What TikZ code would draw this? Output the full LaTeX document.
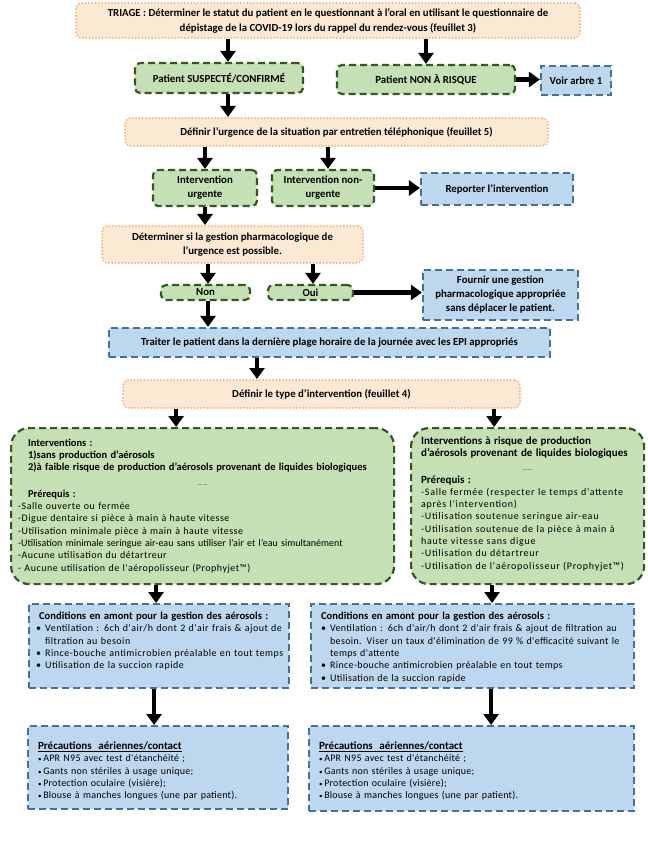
\documentclass[tikz,border=0pt]{standalone}
\usepackage{fontspec}
\setmainfont{Carlito}
\newfontfamily\espacA[LetterSpace=5]{Carlito}
\newfontfamily\espacB[LetterSpace=7.5]{Carlito}
\newfontfamily\espacC[LetterSpace=5]{Carlito}
\newfontfamily\espacD[LetterSpace=3.5]{Carlito}
\newfontfamily\espacE[LetterSpace=2.5]{Carlito}
\usetikzlibrary{arrows.meta}
\definecolor{peachfill}{HTML}{FCE9D4}
\definecolor{peachline}{HTML}{F2AD7A}
\definecolor{greenfill}{HTML}{C5E0B4}
\definecolor{greenline}{HTML}{375623}
\definecolor{bluefill}{HTML}{BDD7EE}
\definecolor{blueline}{HTML}{41719C}
\newcommand{\titre}[2][10.5]{{\normalfont\fontsize{#1}{12.3}\selectfont\bfseries #2}}
\newcommand{\puce}{\par\noindent\hangindent=9pt\hangafter=1\makebox[9pt][l]{\textbullet}}
\newcommand{\petitepuce}{{\scriptsize\textbullet}\,}
\begin{document}
\begin{tikzpicture}[x=1pt, y=-1pt, >={Triangle[length=11pt,width=15pt]},
  every node/.style={inner sep=0pt, align=center, font=\fontsize{10.8}{14}\selectfont\bfseries},
  peach/.style={draw=peachline, fill=peachfill, line width=2pt, line cap=round, dash pattern=on 0pt off 3.3pt, rounded corners=6pt},
  greenbox/.style={draw=greenline, fill=greenfill, line width=2.2pt, dash pattern=on 7pt off 4pt, rounded corners=5pt},
  bluebox/.style={draw=blueline, fill=bluefill, line width=2.2pt, dash pattern=on 7pt off 4pt},
  bigtext/.style={align=left, anchor=north west, font=\fontsize{10}{12.3}\selectfont},
  arr/.style={->, line width=4.5pt}]
  \fill[white] (0,0) rectangle (647,850);
  \useasboundingbox (0,0) rectangle (647,850);

  \node[peach, minimum width=504pt, minimum height=35pt] (triage) at (328,20.5)
    {TRIAGE : Déterminer le statut du patient en le questionnant à l'oral en utilisant le questionnaire de\\[1pt]
     dépistage de la COVID-19 lors du rappel du rendez-vous (feuillet 3)};
  \node[greenbox, minimum width=168pt, minimum height=30pt] (susp) at (219,78) {Patient SUSPECTÉ/CONFIRMÉ};
  \node[greenbox, minimum width=178pt, minimum height=29pt] (nonrisk) at (426,79.5) {Patient NON À RISQUE};
  \node[bluebox, minimum width=70pt, minimum height=29pt] (voir) at (576,80.5) {Voir arbre 1};

  \node[peach, minimum width=423pt, minimum height=28pt] (urg) at (336.5,132)
    {Définir l'urgence de la situation par entretien téléphonique (feuillet 5)};
  \node[greenbox, minimum width=104pt, minimum height=36pt] (urgente) at (205,188) {Intervention\\urgente};
  \node[greenbox, minimum width=102pt, minimum height=36pt] (nonurg) at (323,188) {Intervention non-\\urgente};
  \node[bluebox, minimum width=152pt, minimum height=32pt] (reporter) at (497,189) {Reporter l'intervention};

  \node[peach, minimum width=261pt, minimum height=37pt] (pharma) at (232.5,244.5)
    {Déterminer si la gestion pharmacologique de\\l'urgence est possible.};
  \node[greenbox, minimum width=89pt, minimum height=15pt] (non) at (205.5,292.5) {Non};
  \node[greenbox, minimum width=85pt, minimum height=15pt] (oui) at (310.5,292.5) {Oui};
  \node[bluebox, minimum width=155pt, minimum height=50pt] (fournir) at (500.5,295)
    {Fournir une gestion\\pharmacologique appropriée\\sans déplacer le patient.};

  \node[bluebox, minimum width=441pt, minimum height=29pt] (traiter) at (329.5,342.5)
    {Traiter le patient dans la dernière plage horaire de la journée avec les EPI appropriés};
  \node[peach, minimum width=397pt, minimum height=28pt] (type) at (321.5,394)
    {Définir le type d'intervention (feuillet 4)};

  \node[greenbox, bigtext, rounded corners=18pt, text width=369pt, inner xsep=7pt,
    text height=18pt, text depth=138pt] (lgreen) at (10,427)
    {\hspace*{10pt}\titre{Interventions :}\\
     \hspace*{10pt}\titre{1)sans production d'aérosols}\\
     \hspace*{10pt}\titre{2)à faible risque de production d'aérosols provenant de liquides biologiques}\\[2pt]
     \makebox[\linewidth]{\tiny ........}\\
     \hspace*{10pt}\titre{Prérequis :}\\
     {\espacA -Salle ouverte ou fermée}\\
     {\espacA -Digue dentaire si pièce à main à haute vitesse}\\
     {\espacA -Utilisation minimale pièce à main à haute vitesse}\\
     \mbox{-Utilisation minimale seringue air-eau sans utiliser l'air et l'eau simultanément}\\
     {\espacA -Aucune utilisation du détartreur}\\
     {\espacA - Aucune utilisation de l'aéropolisseur (Prophyjet\texttrademark)}};
  \node[greenbox, bigtext, rounded corners=18pt, text width=213pt, inner xsep=10pt,
    text height=16pt, text depth=140pt] (rgreen) at (410,427)
    {\titre[11]{Interventions à risque de production}\\
     \titre[11]{d'aérosols provenant de liquides biologiques}\\[2pt]
     \makebox[\linewidth]{\tiny ........}\\
     \titre[11]{Prérequis :}\\
     {\espacB -Salle fermée (respecter le temps d'attente}\\
     {\espacB après l'intervention)}\\
     {\espacB -Utilisation soutenue seringue air-eau}\\
     {\espacB -Utilisation soutenue de la pièce à main à}\\
     {\espacB haute vitesse sans digue}\\
     {\espacB -Utilisation du détartreur}\\
     {\espacB -Utilisation de l'aéropolisseur (Prophyjet\texttrademark)}};

  \node[bluebox, bigtext, text width=246pt, inner xsep=7pt,
    text height=15.5pt, text depth=68.5pt] (lcond) at (28,603)
    {\hspace*{3pt}\titre[10.6]{Conditions en amont pour la gestion des aérosols :}\espacC
     \puce \mbox{Ventilation : 6ch d'air/h dont 2 d'air frais \& ajout de}\newline \mbox{filtration au besoin}
     \puce \mbox{Rince-bouche antimicrobien préalable en tout temps}
     \puce \mbox{Utilisation de la succion rapide}};
  \node[bluebox, bigtext, text width=303pt, inner xsep=10pt,
    text height=15.5pt, text depth=68.5pt] (rcond) at (310,603)
    {\titre[10.6]{Conditions en amont pour la gestion des aérosols :}\espacD
     \puce \mbox{Ventilation : 6ch d'air/h dont 2 d'air frais \& ajout de filtration au}\newline
     \mbox{besoin. Viser un taux d'élimination de 99 \% d'efficacité suivant le}\newline \mbox{temps d'attente}
     \puce \mbox{Rince-bouche antimicrobien préalable en tout temps}
     \puce \mbox{Utilisation de la succion rapide}};

  \node[bluebox, bigtext, text width=240pt, inner xsep=10pt,
    text height=23.5pt, text depth=59.5pt] (lprec) at (27,725)
    {\titre[11]{\underline{Précautions\ \ aériennes/contact}}\\\espacE
     \petitepuce APR N95 avec test d'étanchéité ;\\
     \petitepuce Gants non stériles à usage unique;\\
     \petitepuce Protection oculaire (visière);\\
     \petitepuce Blouse à manches longues (une par patient).};
  \node[bluebox, bigtext, text width=305pt, inner xsep=10pt,
    text height=23.5pt, text depth=61.5pt] (rprec) at (308,725)
    {\titre[11]{\underline{Précautions\ \ aériennes/contact}}\\\espacE
     \petitepuce APR N95 avec test d'étanchéité ;\\
     \petitepuce Gants non stériles à usage unique;\\
     \petitepuce Protection oculaire (visière);\\
     \petitepuce Blouse à manches longues (une par patient).};

  \draw[arr] ([xshift=9pt]susp.north |- triage.south) -- ([xshift=9pt]susp.north);
  \draw[arr] (nonrisk.north |- triage.south) -- (nonrisk.north);
  \draw[arr] (nonrisk.east) -- (nonrisk.east -| voir.west);
  \draw[arr] ([xshift=9pt]susp.south) -- ([xshift=9pt]susp.south |- urg.north);
  \draw[arr] (urgente.north |- urg.south) -- (urgente.north);
  \draw[arr] ([xshift=5pt]nonurg.north |- urg.south) -- ([xshift=5pt]nonurg.north);
  \draw[arr] (nonurg.east) -- (nonurg.east -| reporter.west);
  \draw[arr] (urgente.south) -- (urgente.south |- pharma.north);
  \draw[arr] ([xshift=2.5pt]non.north |- pharma.south) -- ([xshift=2.5pt]non.north);
  \draw[arr] ([xshift=2.5pt]oui.north |- pharma.south) -- ([xshift=2.5pt]oui.north);
  \draw[arr] (oui.east) -- (oui.east -| fournir.west);
  \draw[arr] ([xshift=2.5pt]non.south) -- ([xshift=2.5pt]non.south |- traiter.north);
  \draw[arr] ([xshift=-64.5pt]type.north |- traiter.south) -- ([xshift=-64.5pt]type.north);
  \draw[arr] ([xshift=-26.5pt]lgreen.north |- type.south) -- ([xshift=-26.5pt]lgreen.north);
  \draw[arr] ([xshift=-33.5pt]rgreen.north |- type.south) -- ([xshift=-33.5pt]rgreen.north);
  \draw[arr] ([xshift=-3pt]lcond.north |- lgreen.south) -- ([xshift=-3pt]lcond.north);
  \draw[arr] ([xshift=19.5pt]rcond.north |- rgreen.south) -- ([xshift=19.5pt]rcond.north);
  \draw[arr] ([xshift=-5pt]lcond.south) -- ([xshift=-5pt]lcond.south |- lprec.north);
  \draw[arr] ([xshift=18.5pt]rcond.south) -- ([xshift=18.5pt]rcond.south |- rprec.north);
\end{tikzpicture}
\end{document}
